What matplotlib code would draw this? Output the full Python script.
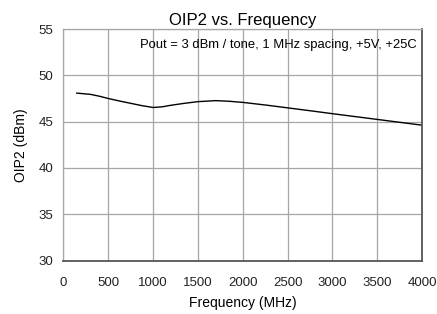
import matplotlib
matplotlib.use("Agg")
import matplotlib.pyplot as plt

plt.rcParams['font.family'] = ['Liberation Sans', 'DejaVu Sans']

freq_mhz = [150, 300, 400, 500, 625, 750, 875, 1000, 1100, 1200, 1350, 1500, 1700, 1850,
            2000, 2250, 2500, 2750, 3000, 3250, 3500, 3750, 4000]
oip2_dbm = [48.08, 47.95, 47.75, 47.5, 47.23, 46.98, 46.73, 46.53, 46.6, 46.77, 46.98, 47.16, 47.27, 47.2,
            47.08, 46.8, 46.49, 46.18, 45.86, 45.55, 45.24, 44.93, 44.62]

x_ticks = [0, 500, 1000, 1500, 2000, 2500, 3000, 3500, 4000]
y_ticks = [30, 35, 40, 45, 50, 55]

fig = plt.figure(figsize=(4.37, 3.14), dpi=100)
ax = fig.add_axes([0.145, 0.170, 0.821, 0.7376])

ax.plot(freq_mhz, oip2_dbm, color='black', linewidth=1.0)

ax.set_xlim(0, 4000)
ax.set_ylim(30, 55)
ax.set_xticks(x_ticks)
ax.set_yticks(y_ticks)
ax.grid(True, color='#a6a6a6', linewidth=0.9)
ax.set_axisbelow(True)
ax.tick_params(length=0, labelsize=9.5, pad=7, colors='#222222')
ax.tick_params(axis='x', pad=12)

for side in ['left', 'top']:
    ax.spines[side].set_color('#a6a6a6')
    ax.spines[side].set_linewidth(0.9)
for side in ['right', 'bottom']:
    ax.spines[side].set_color('#555555')
    ax.spines[side].set_linewidth(1.3)

ax.set_title('OIP2 vs. Frequency', fontsize=12, pad=3)
ax.set_xlabel('Frequency (MHz)', fontsize=10, labelpad=5)
ax.set_ylabel('OIP2 (dBm)', fontsize=10, labelpad=8)

ax.text(0.985, 0.955, 'Pout = 3 dBm / tone, 1 MHz spacing, +5V, +25C',
        transform=ax.transAxes, ha='right', va='top', fontsize=9.4)

fig.savefig('out.png', dpi=100)
